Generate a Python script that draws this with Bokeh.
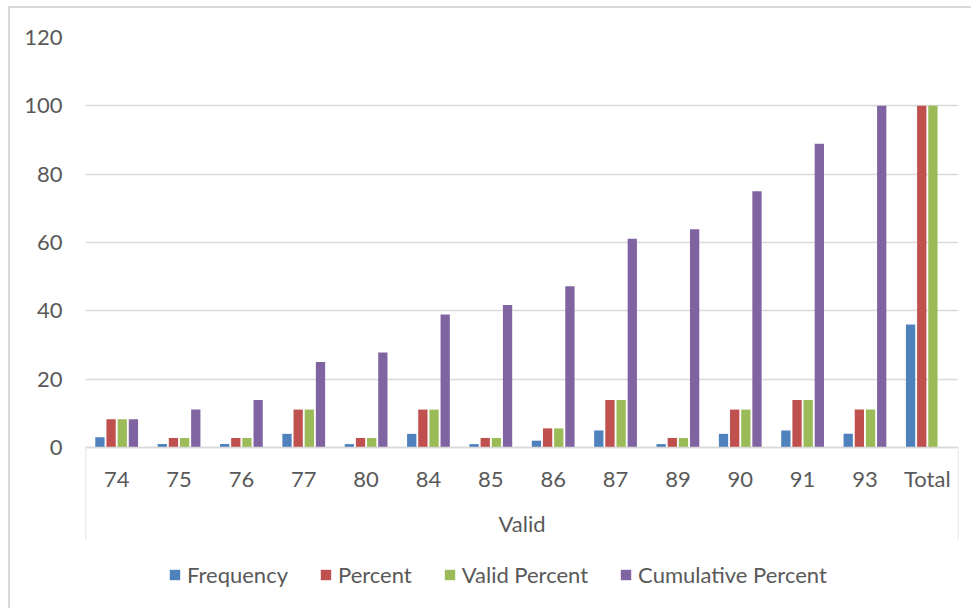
from bokeh.plotting import figure
from bokeh.models import ColumnDataSource, FactorRange, Range1d, FixedTicker, Legend, LegendItem
from bokeh.transform import dodge
from bokeh.embed import file_html
from bokeh.resources import INLINE

categories = ["74", "75", "76", "77", "80", "84", "85", "86", "87", "89", "90", "91", "93", "Total"]
frequency = [3, 1, 1, 4, 1, 4, 1, 2, 5, 1, 4, 5, 4, 36]
percent = [8.3, 2.8, 2.8, 11.1, 2.8, 11.1, 2.8, 5.6, 13.9, 2.8, 11.1, 13.9, 11.1, 100.0]
valid_percent = [8.3, 2.8, 2.8, 11.1, 2.8, 11.1, 2.8, 5.6, 13.9, 2.8, 11.1, 13.9, 11.1, 100.0]
cumulative_percent = [8.3, 11.1, 13.9, 25.0, 27.8, 38.9, 41.7, 47.2, 61.1, 63.9, 75.0, 88.9, 100.0, float("nan")]
series_names = ["Frequency", "Percent", "Valid Percent", "Cumulative Percent"]
series_keys = ["frequency", "percent", "valid_percent", "cumulative_percent"]
y_ticks = [0, 20, 40, 60, 80, 100, 120]
group_label = "Valid"

colors = ["#4F81BD", "#C0504D", "#9BBB59", "#8064A2"]
FONT = "Lato"
TXT = "#595959"
GRID = "#d9d9d9"

source = ColumnDataSource(dict(
    cat=categories,
    frequency=frequency,
    percent=percent,
    valid_percent=valid_percent,
    cumulative_percent=cumulative_percent,
))

p = figure(
    x_range=FactorRange(*categories),
    y_range=Range1d(-47.7, 120),
    width=963, height=602,
    min_border_left=75, min_border_right=15, min_border_top=29, min_border_bottom=0,
    output_backend="svg", toolbar_location=None,
)
p.styles = {"margin-left": "8px", "margin-top": "6px",
            "border-left": "2px solid #d9d9d9", "border-top": "2px solid #d9d9d9"}
p.outline_line_color = None
p.background_fill_color = "white"
p.border_fill_color = "white"

slot = 0.179
bar_w = 0.149
offsets = [-1.5 * slot, -0.5 * slot, 0.5 * slot, 1.5 * slot]
renderers = []
for key, off, col in zip(series_keys, offsets, colors):
    r = p.vbar(x=dodge("cat", off, range=p.x_range), top=key, bottom=0, width=bar_w,
               source=source, fill_color=col, line_color=None)
    renderers.append(r)

# Category-axis group boundary lines (Excel multi-level axis)
n = len(categories)
p.segment(x0=[0, n], y0=[0, 0], x1=[0, n], y1=[-26.9, -26.9], line_color=GRID, line_width=1.5)

# Y axis
p.yaxis.ticker = FixedTicker(ticks=y_ticks)
p.yaxis.axis_line_color = None
p.yaxis.major_tick_line_color = None
p.yaxis.minor_tick_line_color = None
p.yaxis.major_tick_out = 0
p.yaxis.major_tick_in = 0
p.yaxis.major_label_standoff = 23
p.yaxis.major_label_text_font = FONT
p.yaxis.major_label_text_font_size = "22px"
p.yaxis.major_label_text_color = TXT
p.ygrid.ticker = FixedTicker(ticks=y_ticks)
p.ygrid.grid_line_color = GRID
p.ygrid.grid_line_width = 1.5
p.xgrid.grid_line_color = None

# X axis
p.xaxis.fixed_location = 0
p.xaxis.axis_line_color = GRID
p.xaxis.axis_line_width = 1.5
p.xaxis.major_tick_line_color = None
p.xaxis.minor_tick_line_color = None
p.xaxis.major_tick_out = 0
p.xaxis.major_tick_in = 0
p.xaxis.major_label_standoff = 17
p.xaxis.major_label_text_font = FONT
p.xaxis.major_label_text_font_size = "22px"
p.xaxis.major_label_text_color = TXT
p.xaxis.axis_label = group_label
p.xaxis.axis_label_standoff = 15
p.xaxis.axis_label_text_font = FONT
p.xaxis.axis_label_text_font_size = "22px"
p.xaxis.axis_label_text_font_style = "normal"
p.xaxis.axis_label_text_color = TXT

legend = Legend(
    items=[LegendItem(label=nm, renderers=[r]) for nm, r in zip(series_names, renderers)],
    location=(83, 22), orientation="horizontal",
    glyph_width=13, glyph_height=13, label_standoff=6, spacing=31,
    padding=0, margin=0,
    label_text_font=FONT, label_text_font_size="22px", label_text_color=TXT,
    border_line_color=None, background_fill_alpha=0,
)
p.add_layout(legend)

open("out.html", "w").write(file_html(p, INLINE))
